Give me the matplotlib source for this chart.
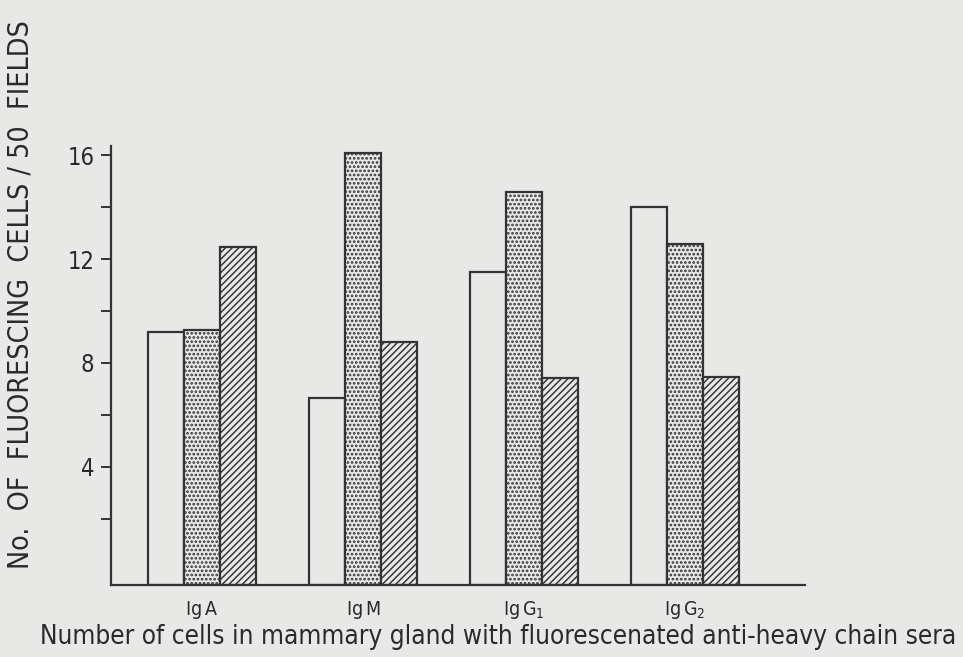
import numpy as np
import matplotlib
matplotlib.use("Agg")
import matplotlib.pyplot as plt

# values
categories = [r"$\mathregular{Ig\,A}$", r"$\mathregular{Ig\,M}$",
              r"$\mathregular{Ig\,G_1}$", r"$\mathregular{Ig\,G_2}$"]
open_vals = [9.2, 6.65, 11.5, 14.0]
dotted_vals = [9.25, 16.1, 14.6, 12.6]
hatched_vals = [12.45, 8.8, 7.4, 7.45]

y_major = [4, 8, 12, 16]
y_minor = [2, 6, 10, 14]

paper = "#e8e8e6"
ink = "#333333"

plt.rcParams["font.family"] = ["DejaVu Sans"]
plt.rcParams["font.stretch"] = "condensed"
plt.rcParams["mathtext.fontset"] = "custom"
plt.rcParams["mathtext.rm"] = "DejaVu Sans"
plt.rcParams["hatch.color"] = ink

fig = plt.figure(figsize=(9.63, 6.57), dpi=100, facecolor=paper)
ax = fig.add_axes([111 / 963, 72 / 657, (805 - 111) / 963, (585 - 146) / 657])
ax.set_facecolor(paper)

floor = -0.56  # the drawn baseline sits a little under zero
x = np.arange(len(categories))
w = 0.222

# (values, offset, hatch, hatch line width)
series = [
    (open_vals, -w, "", 1.0),
    (dotted_vals, 0, "....", 1.3),
    (hatched_vals, w, "/////", 1.05),
]
for vals, off, hatch, hlw in series:
    plt.rcParams["hatch.linewidth"] = hlw
    vals = np.array(vals)
    ax.bar(x + off, vals - floor, bottom=floor, width=w,
           facecolor=paper, edgecolor=ink, linewidth=1.6, hatch=hatch)

ax.set_xlim(-0.565, 3.745)
ax.set_ylim(floor, 16.36)

for s in ["top", "right"]:
    ax.spines[s].set_visible(False)
for s in ["left", "bottom"]:
    ax.spines[s].set_color(ink)
    ax.spines[s].set_linewidth(1.6)

ax.set_yticks(y_major)
ax.set_yticks(y_minor, minor=True)
ax.tick_params(axis="y", which="both", direction="out", length=7, width=1.4,
               color=ink, labelsize=17, labelcolor="#2a2a2a", pad=5)
ax.set_xticks(x)
ax.set_xticklabels(categories)
ax.tick_params(axis="x", length=0, labelsize=14, labelcolor="#2a2a2a", pad=10)

fig.text(498 / 963, 1 - 637 / 657,
         "Number of cells in mammary gland with fluorescenated anti-heavy chain sera",
         ha="center", va="center", fontsize=18.8, color="#2a2a2a")
fig.text(21 / 963, 1 - 295 / 657, "No.  OF  FLUORESCING  CELLS / 50  FIELDS",
         ha="center", va="center", rotation=90, fontsize=20.5, color="#2a2a2a")

fig.savefig("out.png", dpi=100, facecolor=paper)
